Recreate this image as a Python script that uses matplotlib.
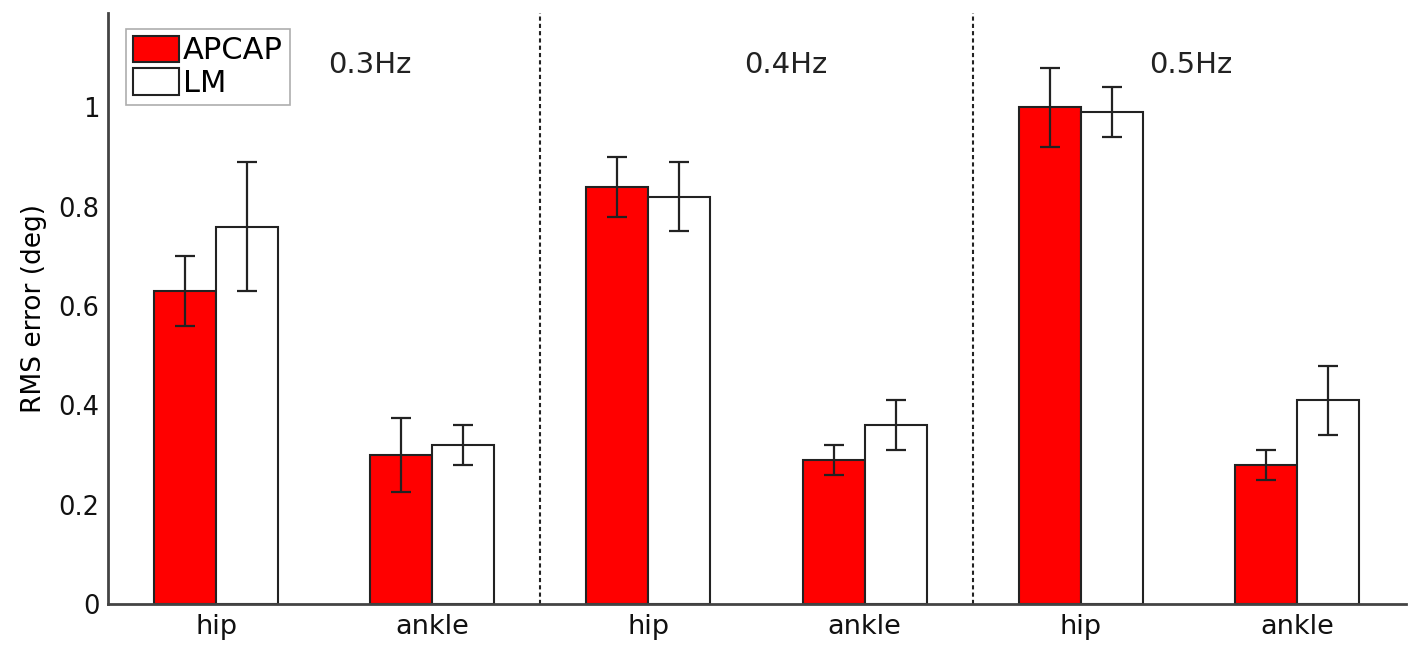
"""Grouped bar chart: RMS error of APCAP vs LM for hip and ankle at three frequencies."""
import matplotlib.pyplot as plt
import numpy as np

plt.rcParams["font.family"] = ["DejaVu Sans"]

# data
joints = ["hip", "ankle", "hip", "ankle", "hip", "ankle"]
freq_labels = ["0.3Hz", "0.4Hz", "0.5Hz"]
freq_pos = [1.71, 3.634, 5.51]
apcap = [0.63, 0.30, 0.84, 0.29, 1.00, 0.28]
apcap_err = [0.07, 0.075, 0.06, 0.03, 0.08, 0.03]
lm = [0.76, 0.32, 0.82, 0.36, 0.99, 0.41]
lm_err = [0.13, 0.04, 0.07, 0.05, 0.05, 0.07]
yticks = [0, 0.2, 0.4, 0.6, 0.8, 1]

x = np.arange(1, len(joints) + 1)
w = 0.287

fig = plt.figure(figsize=(14.11, 6.46), dpi=100)
ax = fig.add_axes([0.0765, 0.065, 0.92, 0.915])

err_kw = dict(ecolor="#222222", elinewidth=1.6, capsize=7, capthick=1.6)
ax.bar(x - w / 2, apcap, w, yerr=apcap_err, color="#ff0000",
       edgecolor="#222222", linewidth=1.5, label="APCAP", error_kw=err_kw)
ax.bar(x + w / 2, lm, w, yerr=lm_err, color="white",
       edgecolor="#222222", linewidth=1.5, label="LM", error_kw=err_kw)

# dashed separators between frequency groups
for xs in (2.5, 4.5):
    ax.axvline(xs, color="#222222", lw=1.5, ls=(0, (2, 1.5)))

for xp, lab in zip(freq_pos, freq_labels):
    ax.text(xp, 1.085, lab, fontsize=21, ha="center", va="center",
            color="#222222")

ax.set_xlim(0.5, 6.505)
ax.set_ylim(0, 1.19)
ax.set_xticks(x)
ax.set_xticklabels(joints, fontsize=19.5)
ax.set_yticks(yticks)
ax.set_yticklabels([f"{v:g}" for v in yticks], fontsize=18.5)
ax.tick_params(axis="y", length=0, pad=6, colors="#111111")
ax.tick_params(axis="x", length=0, pad=7, colors="#111111")
ax.set_ylabel("RMS error (deg)", fontsize=19, labelpad=8)

for side in ("top", "right"):
    ax.spines[side].set_visible(False)
for side in ("left", "bottom"):
    ax.spines[side].set_color("#444444")
    ax.spines[side].set_linewidth(2)

leg = ax.legend(loc="upper left", bbox_to_anchor=(0.014, 0.973), fontsize=22,
                frameon=True, fancybox=False, handlelength=1.5,
                handleheight=0.95, handletextpad=0.15, borderpad=0.22,
                labelspacing=0.1, borderaxespad=0)
leg.get_frame().set_edgecolor("#999999")
leg.get_frame().set_linewidth(1.2)

fig.savefig("out.png", dpi=100)
